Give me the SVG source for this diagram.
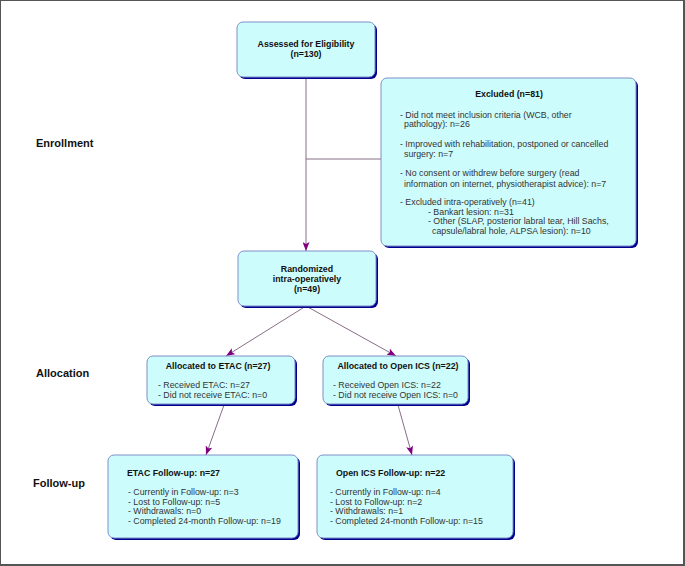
<svg xmlns="http://www.w3.org/2000/svg" width="685" height="566" viewBox="0 0 685 566">
<style>
  .box { fill: #cdfcfd; stroke: #7f8fc8; stroke-width: 1; }
  .shadow { fill: #000090; }
  .t { font-family: "Liberation Sans", Arial, sans-serif; font-size: 8.8px; fill: #333; }
  .b { font-family: "Liberation Sans", Arial, sans-serif; font-size: 8.8px; font-weight: bold; fill: #111; }
  .c { text-anchor: middle; }
  .side { font-family: "Liberation Sans", Arial, sans-serif; font-size: 11px; font-weight: bold; fill: #111; }
  .conn { stroke: #866f86; stroke-width: 1; fill: none; }
</style>
<defs>
  <marker id="arr" markerUnits="userSpaceOnUse" markerWidth="9" markerHeight="7" refX="9" refY="3.5" orient="auto">
    <path d="M0,0 L9,3.5 L0,7 L2,3.5 z" fill="#800080"/>
  </marker>
</defs>
<rect x="0" y="0" width="685" height="566" fill="#ffffff"/>
<rect x="0.5" y="0.5" width="683" height="564" fill="none" stroke="#555" stroke-width="1"/>
<line x1="684.5" y1="0" x2="684.5" y2="566" stroke="#555"/>
<line x1="0" y1="565.5" x2="685" y2="565.5" stroke="#555"/>

<g id="labels">
  <text class="side" x="36" y="147">Enrollment</text>
  <text class="side" x="36" y="377">Allocation</text>
  <text class="side" x="33" y="487">Follow-up</text>
</g>

<g id="connectors">
  <line class="conn" x1="306" y1="77" x2="306" y2="251" marker-end="url(#arr)"/>
  <line class="conn" x1="306" y1="159" x2="381" y2="159"/>
  <line class="conn" x1="306" y1="306" x2="226" y2="356" marker-end="url(#arr)"/>
  <line class="conn" x1="306" y1="306" x2="396" y2="356" marker-end="url(#arr)"/>
  <line class="conn" x1="224" y1="405" x2="206" y2="455" marker-end="url(#arr)"/>
  <line class="conn" x1="398" y1="405" x2="412" y2="455" marker-end="url(#arr)"/>
</g>

<g id="assessed">
  <rect class="shadow" x="239" y="24" width="138" height="55" rx="6"/>
  <rect class="box" x="237" y="22" width="138" height="55" rx="6"/>
  <text class="b c" x="306" y="46.5">Assessed for Eligibility</text>
  <text class="b c" x="306" y="56.5">(n=130)</text>
</g>

<g id="excluded">
  <rect class="shadow" x="383" y="80" width="255" height="168" rx="6"/>
  <rect class="box" x="381" y="78" width="255" height="168" rx="6"/>
  <text class="b c" x="509" y="96.5">Excluded (n=81)</text>
  <text class="t" x="400" y="117.5">- Did not meet inclusion criteria (WCB, other</text>
  <text class="t" x="404" y="127">pathology): n=26</text>
  <text class="t" x="400" y="146.5">- Improved with rehabilitation, postponed or cancelled</text>
  <text class="t" x="404" y="157">surgery: n=7</text>
  <text class="t" x="400" y="176">- No consent or withdrew before surgery (read</text>
  <text class="t" x="404" y="187">information on internet, physiotherapist advice): n=7</text>
  <text class="t" x="400" y="205">- Excluded intra-operatively (n=41)</text>
  <text class="t" x="428" y="214.5">- Bankart lesion: n=31</text>
  <text class="t" x="428" y="224">- Other (SLAP, posterior labral tear, Hill Sachs,</text>
  <text class="t" x="432" y="233.5">capsule/labral hole, ALPSA lesion): n=10</text>
</g>

<g id="randomized">
  <rect class="shadow" x="240" y="253" width="138" height="55" rx="6"/>
  <rect class="box" x="238" y="251" width="138" height="55" rx="6"/>
  <text class="b c" x="307" y="271.5">Randomized</text>
  <text class="b c" x="307" y="281.5">intra-operatively</text>
  <text class="b c" x="307" y="291.5">(n=49)</text>
</g>

<g id="alloc-etac">
  <rect class="shadow" x="149" y="358" width="148" height="48" rx="6"/>
  <rect class="box" x="147" y="356" width="148" height="48" rx="6"/>
  <text class="b c" x="218" y="368.5">Allocated to ETAC (n=27)</text>
  <text class="t" x="158" y="387.5">- Received ETAC: n=27</text>
  <text class="t" x="158" y="397.5">- Did not receive ETAC: n=0</text>
</g>

<g id="alloc-ics">
  <rect class="shadow" x="325" y="358" width="145" height="48" rx="6"/>
  <rect class="box" x="323" y="356" width="145" height="48" rx="6"/>
  <text class="b c" x="398" y="368.5">Allocated to Open ICS (n=22)</text>
  <text class="t" x="333" y="387.5">- Received Open ICS: n=22</text>
  <text class="t" x="333" y="397.5">- Did not receive Open ICS: n=0</text>
</g>

<g id="followup-etac">
  <rect class="shadow" x="110" y="457" width="190" height="83" rx="6"/>
  <rect class="box" x="108" y="455" width="190" height="83" rx="6"/>
  <text class="b" x="127" y="475.5">ETAC Follow-up: n=27</text>
  <text class="t" x="128" y="495">- Currently in Follow-up: n=3</text>
  <text class="t" x="128" y="504.5">- Lost to Follow-up: n=5</text>
  <text class="t" x="128" y="514">- Withdrawals: n=0</text>
  <text class="t" x="128" y="524">- Completed 24-month Follow-up: n=19</text>
</g>

<g id="followup-ics">
  <rect class="shadow" x="319" y="457" width="196" height="83" rx="6"/>
  <rect class="box" x="317" y="455" width="196" height="83" rx="6"/>
  <text class="b" x="336" y="475.5">Open ICS Follow-up: n=22</text>
  <text class="t" x="330" y="495">- Currently in Follow-up: n=4</text>
  <text class="t" x="330" y="504.5">- Lost to Follow-up: n=2</text>
  <text class="t" x="330" y="514">- Withdrawals: n=1</text>
  <text class="t" x="330" y="524">- Completed 24-month Follow-up: n=15</text>
</g>
</svg>
